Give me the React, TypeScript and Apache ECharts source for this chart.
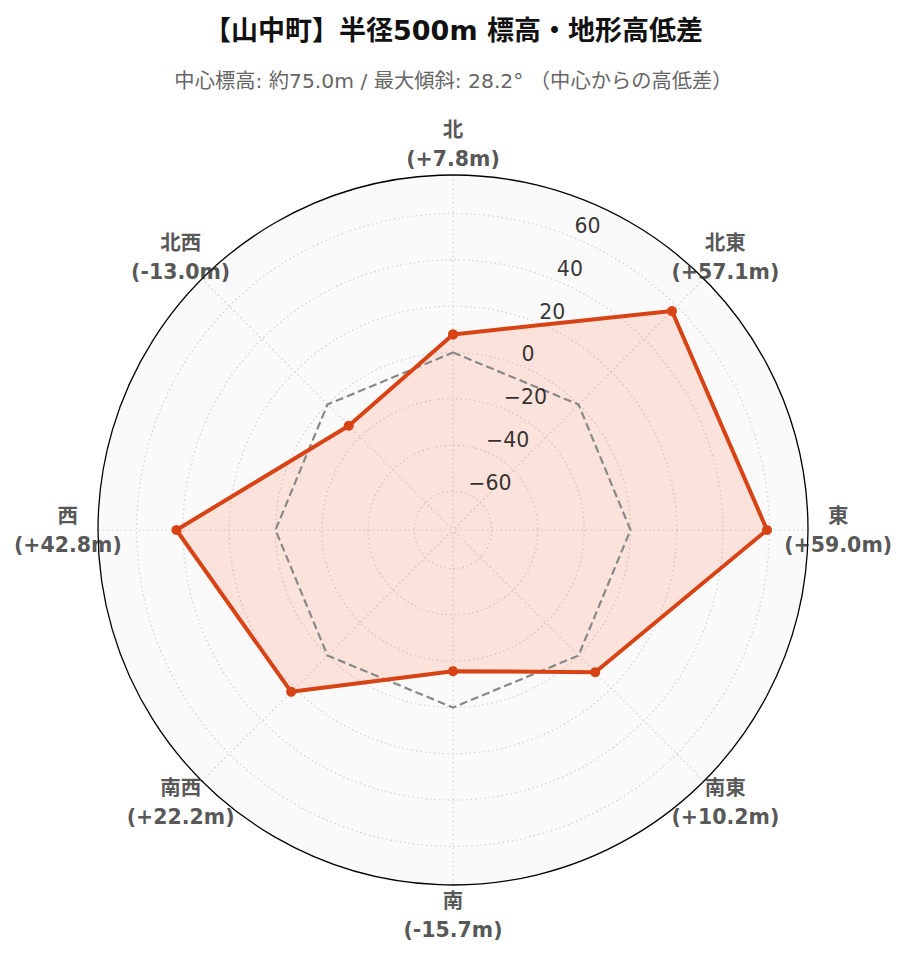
import React, { useEffect, useRef } from 'react';
import * as echarts from 'echarts';

const directions = ['北', '北東', '東', '南東', '南', '南西', '西', '北西'];
const elevationDiff = [7.8, 57.1, 59.0, 10.2, -15.7, 22.2, 42.8, -13.0];
const zeroRef = [0, 0, 0, 0, 0, 0, 0, 0];
const radialTicks = [-60, -40, -20, 0, 20, 40, 60];
const radialMax = 76.7;
const radialMin = -76.7;
const titleText = '【山中町】半径500m 標高・地形高低差';
const subtitleText = '中心標高: 約75.0m / 最大傾斜: 28.2° （中心からの高低差）';

const LATIN_CJK = '"DejaVu Sans", "Noto Sans CJK JP", sans-serif';

export default function App() {
  const ref = useRef<HTMLDivElement>(null);

  useEffect(() => {
    document.body.style.margin = '0';
    if (!ref.current) return;
    const chart = echarts.init(ref.current, null, { renderer: 'svg' });
    const step = 360 / directions.length;
    const closeLoop = (vals: number[]) => {
      const pts = vals.map((v, i) => [v, i * step]);
      pts.push([vals[0], 360]);
      return pts;
    };
    const labelRadius = radialMax + (radialMax - radialMin) * 0.085;
    const fmtDiff = (v: number) => `(${v >= 0 ? '+' : '-'}${Math.abs(v).toFixed(1)}m)`;
    const polarBox = { center: [453, 530], radius: 355 };
    const gridLine = { color: '#d0d0d0', type: [1.5, 3], width: 1.2 };

    chart.setOption({
      animation: false,
      backgroundColor: '#ffffff',
      title: [
        {
          text: titleText,
          left: 'center',
          top: 12,
          textStyle: { fontSize: 27, fontWeight: 'bold', color: '#111111', fontFamily: LATIN_CJK },
        },
        {
          text: subtitleText,
          left: 'center',
          top: 66,
          textStyle: { fontSize: 20.3, fontWeight: 'normal', color: '#666666', fontFamily: LATIN_CJK },
        },
      ],
      polar: [polarBox, polarBox],
      angleAxis: [
        {
          polarIndex: 0,
          z: 0,
          type: 'value',
          min: 0,
          max: 360,
          interval: 45,
          startAngle: 90,
          clockwise: true,
          axisLine: { show: false },
          axisTick: { show: false },
          axisLabel: { show: false },
          splitLine: { show: false },
          splitArea: { show: true, areaStyle: { color: ['#fafafa'] } },
        },
        {
          polarIndex: 1,
          z: 1,
          type: 'value',
          min: 0,
          max: 360,
          interval: 45,
          startAngle: 90,
          clockwise: true,
          axisLine: { show: true, lineStyle: { color: '#000000', width: 1.3 } },
          axisTick: { show: false },
          axisLabel: { show: false },
          splitLine: { show: true, lineStyle: gridLine },
          splitArea: { show: false },
        },
      ],
      radiusAxis: [
        {
          polarIndex: 0,
          z: 0,
          type: 'value',
          min: radialMin,
          max: radialMax,
          axisLine: { show: false },
          axisTick: { show: false },
          axisLabel: { show: false },
          splitLine: { show: false },
        },
        {
          polarIndex: 1,
          z: 1,
          type: 'value',
          min: radialMin,
          max: radialMax,
          axisLine: { show: false },
          axisTick: { show: false, customValues: radialTicks },
          axisLabel: { show: false, customValues: radialTicks },
          splitLine: { show: true, lineStyle: gridLine },
        },
      ],
      series: [
        {
          type: 'line',
          coordinateSystem: 'polar',
          polarIndex: 1,
          data: closeLoop(elevationDiff),
          symbol: 'none',
          lineStyle: { width: 0, opacity: 0 },
          areaStyle: { color: 'rgba(255,110,70,0.24)', origin: 'start' },
          z: 2,
        },
        {
          type: 'line',
          coordinateSystem: 'polar',
          polarIndex: 1,
          data: closeLoop(zeroRef),
          symbol: 'none',
          lineStyle: { color: '#888888', width: 2.2, type: [8, 4] },
          z: 3,
        },
        {
          type: 'line',
          coordinateSystem: 'polar',
          polarIndex: 1,
          data: closeLoop(elevationDiff),
          symbol: 'circle',
          symbolSize: 10,
          itemStyle: { color: '#d84315' },
          lineStyle: { color: '#d84315', width: 4 },
          z: 4,
        },
        {
          type: 'scatter',
          coordinateSystem: 'polar',
          polarIndex: 1,
          clip: false,
          silent: true,
          symbolSize: 1,
          itemStyle: { color: 'rgba(0,0,0,0)' },
          data: radialTicks.map((v) => [v, step / 2]),
          label: {
            show: true,
            position: [1, -1],
            align: 'left',
            verticalAlign: 'bottom',
            fontSize: 20.5,
            color: '#000000',
            fontFamily: LATIN_CJK,
            formatter: (p: any) => {
              const v = p.value[0];
              return v < 0 ? `\u2212${Math.abs(v)}` : `${v}`;
            },
          },
          z: 5,
        },
        {
          type: 'scatter',
          coordinateSystem: 'polar',
          polarIndex: 1,
          clip: false,
          silent: true,
          symbolSize: 1,
          itemStyle: { color: 'rgba(0,0,0,0)' },
          data: directions.map((d, i) => ({ name: d, value: [labelRadius, i * step] })),
          label: {
            show: true,
            position: 'inside',
            align: 'center',
            verticalAlign: 'middle',
            fontSize: 20.5,
            lineHeight: 29,
            fontWeight: 'bold',
            color: '#2a2a2a',
            fontFamily: LATIN_CJK,
            formatter: (p: any) => `${p.name}\n${fmtDiff(elevationDiff[p.dataIndex])}`,
          },
          z: 5,
        },
      ],
    });
    return () => chart.dispose();
  }, []);

  return <div ref={ref} style={{ width: 907, height: 962 }} />;
}
